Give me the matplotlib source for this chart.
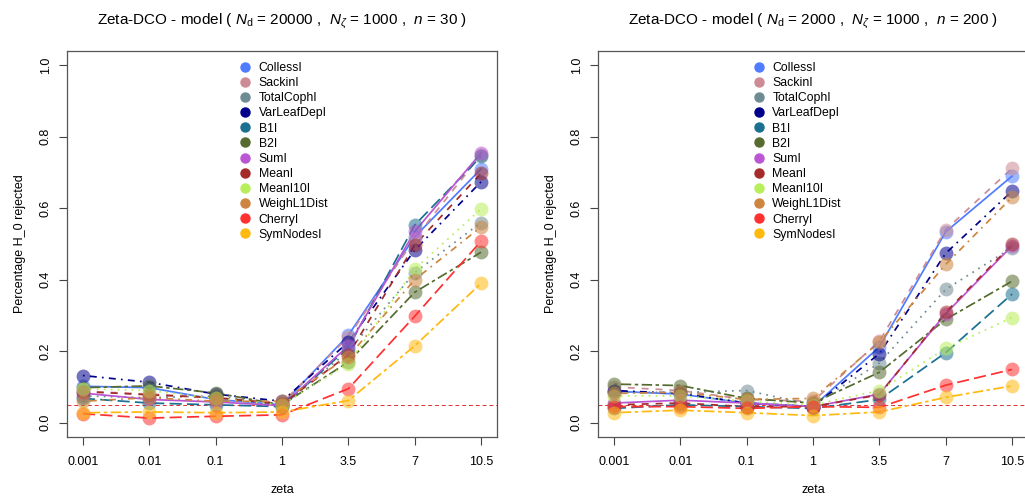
import numpy as np
import matplotlib.pyplot as plt
from matplotlib.lines import Line2D

plt.rcParams['font.family'] = ['Liberation Sans', 'DejaVu Sans']
plt.rcParams['mathtext.fontset'] = 'custom'
plt.rcParams['mathtext.rm'] = 'Liberation Sans'
plt.rcParams['mathtext.it'] = 'Liberation Sans:italic'
plt.rcParams['mathtext.sf'] = 'Liberation Sans'

# zeta values (categorical x axis)
zeta_labels = ['0.001', '0.01', '0.1', '1', '3.5', '7', '10.5']

index_names = ['CollessI', 'SackinI', 'TotalCophI', 'VarLeafDepI', 'B1I', 'B2I',
               'SumI', 'MeanI', 'MeanI10I', 'WeighL1Dist', 'CherryI', 'SymNodesI']

# left panel: N_d = 20000, n = 30
left_vals = np.array([
    [0.102, 0.098, 0.065, 0.050, 0.245, 0.520, 0.710],   # CollessI
    [0.088, 0.080, 0.070, 0.055, 0.240, 0.515, 0.750],   # SackinI
    [0.075, 0.070, 0.075, 0.050, 0.200, 0.420, 0.560],   # TotalCophI
    [0.132, 0.113, 0.080, 0.060, 0.226, 0.483, 0.674],   # VarLeafDepI
    [0.068, 0.055, 0.050, 0.045, 0.210, 0.553, 0.745],   # B1I
    [0.098, 0.103, 0.083, 0.050, 0.170, 0.365, 0.477],   # B2I
    [0.083, 0.065, 0.058, 0.048, 0.215, 0.535, 0.755],   # SumI
    [0.087, 0.078, 0.070, 0.052, 0.190, 0.497, 0.698],   # MeanI
    [0.095, 0.090, 0.068, 0.050, 0.165, 0.430, 0.598],   # MeanI10I
    [0.060, 0.070, 0.060, 0.060, 0.185, 0.400, 0.548],   # WeighL1Dist
    [0.025, 0.013, 0.018, 0.022, 0.095, 0.298, 0.508],   # CherryI
    [0.028, 0.030, 0.028, 0.030, 0.062, 0.215, 0.390],   # SymNodesI
])

# right panel: N_d = 2000, n = 200
right_vals = np.array([
    [0.088, 0.080, 0.055, 0.045, 0.212, 0.534, 0.690],   # CollessI
    [0.100, 0.090, 0.065, 0.060, 0.228, 0.540, 0.712],   # SackinI
    [0.085, 0.085, 0.090, 0.050, 0.167, 0.373, 0.490],   # TotalCophI
    [0.090, 0.082, 0.055, 0.045, 0.193, 0.474, 0.648],   # VarLeafDepI
    [0.040, 0.050, 0.045, 0.040, 0.065, 0.196, 0.360],   # B1I
    [0.108, 0.104, 0.068, 0.055, 0.141, 0.289, 0.396],   # B2I
    [0.055, 0.063, 0.055, 0.045, 0.080, 0.305, 0.495],   # SumI
    [0.050, 0.055, 0.045, 0.045, 0.078, 0.309, 0.499],   # MeanI
    [0.075, 0.075, 0.060, 0.050, 0.090, 0.208, 0.294],   # MeanI10I
    [0.082, 0.085, 0.065, 0.068, 0.225, 0.443, 0.631],   # WeighL1Dist
    [0.045, 0.045, 0.040, 0.045, 0.043, 0.105, 0.149],   # CherryI
    [0.028, 0.035, 0.028, 0.020, 0.030, 0.071, 0.103],   # SymNodesI
])

colors = ['#4F7CFF', '#CD8C95', '#6E8B93', '#00008B', '#1A7090', '#556B2F',
          '#BA55D3', '#A52A2A', '#B8EE5A', '#CD853F', '#FF3030', '#FFB90F']
# R lty 1..6 repeated
styles = ['-', (0, (4, 4)), (0, (1, 3)), (0, (1, 3, 4, 3)), (0, (7, 3)), (0, (2, 2, 6, 2))] * 2

titles = [r'Zeta-DCO - model ( $N_\mathrm{d}$ = 20000 ,  $N_\zeta$ = 1000 ,  $n$ = 30 )',
          r'Zeta-DCO - model ( $N_\mathrm{d}$ = 2000 ,  $N_\zeta$ = 1000 ,  $n$ = 200 )']

fig = plt.figure(figsize=(10.25, 4.97), dpi=100)
W, H = 1025, 497
ax_l = fig.add_axes([67 / W, 60 / H, 430 / W, 386 / H])
ax_r = fig.add_axes([598 / W, 60 / H, 430 / W, 386 / H])

x = np.arange(1, len(zeta_labels) + 1)
legend_x = [0.40, 0.36]

for k, (ax, vals) in enumerate([(ax_l, left_vals), (ax_r, right_vals)]):
    ax.axhline(0.05, color='#E03030', lw=0.7, ls=(0, (4, 3)), zorder=1)
    for i in range(len(index_names)):
        ax.plot(x, vals[i], color=colors[i], ls=styles[i], lw=1.25, zorder=2)
        ax.plot(x, vals[i], 'o', color=colors[i], ms=10, alpha=0.55, mec='none', zorder=3)
    ax.set_xlim(0.76, 7.24)
    ax.set_ylim(-0.04, 1.04)
    ax.set_xticks(x)
    ax.set_xticklabels(zeta_labels)
    ax.set_yticks([0, 0.2, 0.4, 0.6, 0.8, 1.0])
    ax.set_yticklabels(['0.0', '0.2', '0.4', '0.6', '0.8', '1.0'], rotation=90, va='center')
    ax.tick_params(direction='out', length=6, width=0.8, color='#444444', labelsize=9, pad=5)
    ax.tick_params(axis='x', pad=8)
    for s in ax.spines.values():
        s.set_color('#555555')
        s.set_linewidth(0.9)
    ax.set_xlabel('zeta', fontsize=9, labelpad=11)
    ax.set_ylabel('Percentage H_0 rejected', fontsize=9, labelpad=10)
    ax.text(0.5, 1.076, titles[k], transform=ax.transAxes, ha='center', va='center', fontsize=11)
    handles = [Line2D([], [], marker='o', ls='none', color=c, ms=6.5) for c in colors]
    ax.legend(handles, index_names, loc='upper left', bbox_to_anchor=(legend_x[k], 0.972),
              frameon=False, fontsize=8.8, handlelength=1.0, handletextpad=0.6,
              labelspacing=0.26, borderpad=0, borderaxespad=0)

fig.savefig('out.png', dpi=100)
